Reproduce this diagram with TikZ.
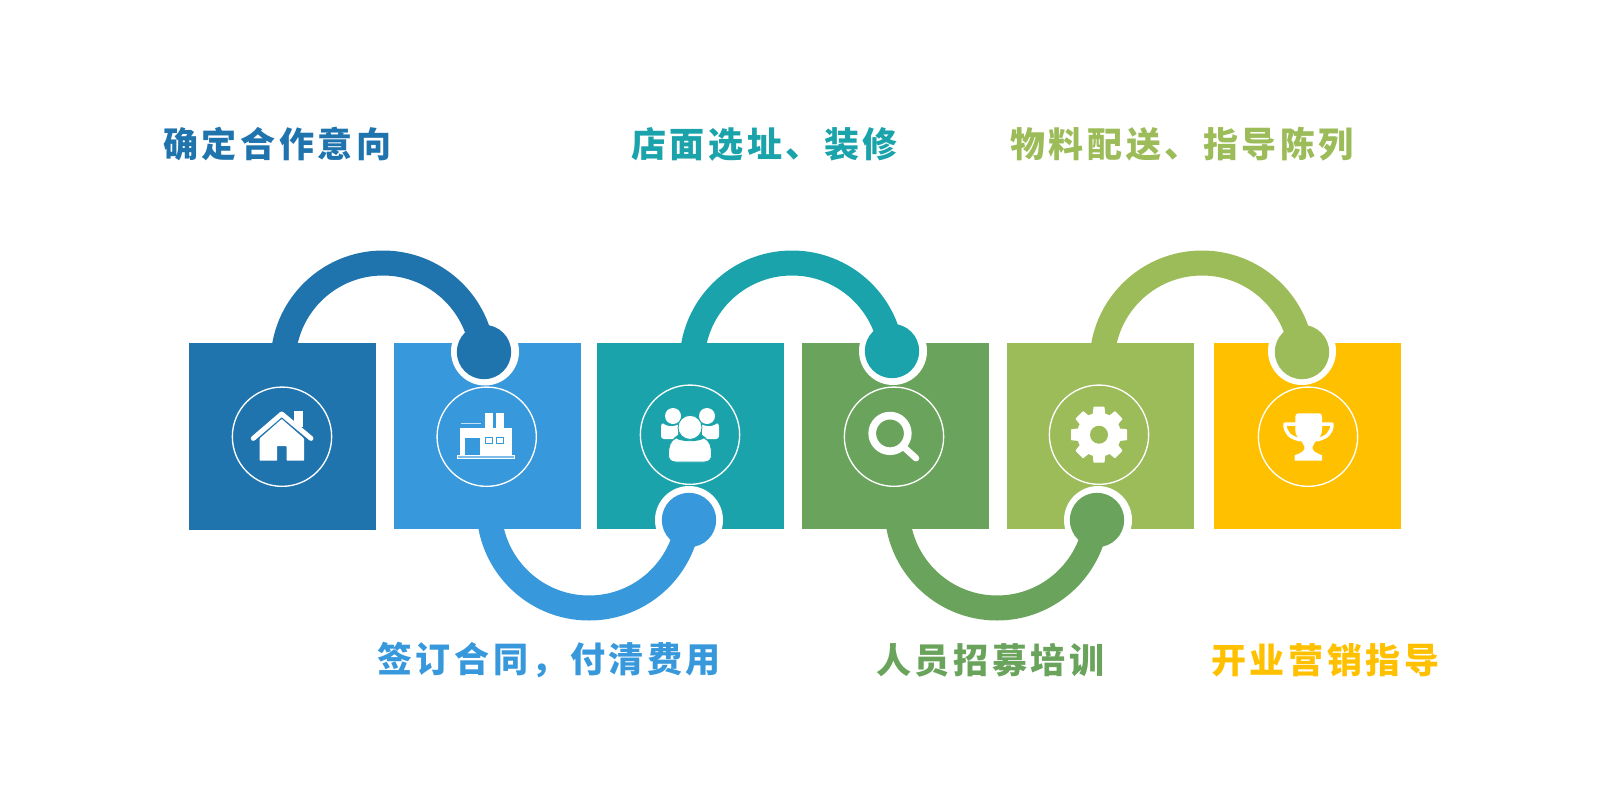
\documentclass[tikz,border=0pt]{standalone}
\usepackage{fontspec}
\newfontfamily\cjk[LetterSpace=10]{Noto Sans CJK SC}
\definecolor{cA}{HTML}{2074AE}
\definecolor{cB}{HTML}{3798DC}
\definecolor{cC}{HTML}{1BA3AC}
\definecolor{cD}{HTML}{6AA35C}
\definecolor{cE}{HTML}{9CBB59}
\definecolor{cF}{HTML}{FFC000}
\def\pxs{1.4226}
\tikzset{
 sq/.style={fill=#1,draw=none,minimum width=187*\pxs pt,minimum height=186.5*\pxs pt,inner sep=0,outer sep=0},
 ring/.style={circle,draw=white,line width=1.9pt,minimum size=99.3*\pxs pt,inner sep=0,outer sep=0},
 hole/.style={circle,fill=white,minimum size=68*\pxs pt,inner sep=0,outer sep=0},
 dot/.style={circle,fill=#1,minimum size=54.4*\pxs pt,inner sep=0,outer sep=0},
 band/.style={draw=#1,line width=25*\pxs pt},
 lbl/.style={text=#1,anchor=west,font=\cjk\bfseries\fontsize{49.8pt}{52pt}\selectfont,inner sep=0,outer sep=0},
 ic/.style={fill=white,draw=none},
 icl/.style={draw=white,fill=none,line cap=round,line join=round},
}
\begin{document}
\begin{tikzpicture}[x=0.05cm,y=-0.05cm]
\useasboundingbox (0,0) rectangle (1600,800);
% squares
\node[sq=cA] (s1) at (282.3,436.3) {};
\node[sq=cB] (s2) at (487.3,436) {};
\node[sq=cC] (s3) at (690.5,436) {};
\node[sq=cD] (s4) at (895.5,436) {};
\node[sq=cE] (s5) at (1100.5,436) {};
\node[sq=cF] (s6) at (1307.5,436) {};
% white collars
\node[hole] (h1) at (485,351.5) {};
\node[hole] (h2) at (689,520) {};
\node[hole] (h3) at (893,351) {};
\node[hole] (h4) at (1098,520) {};
\node[hole] (h5) at (1302,351) {};
% arc starts
\coordinate (a1) at (283,363);
\coordinate (a2) at (489,508);
\coordinate (a3) at (692,363);
\coordinate (a4) at (897,508);
\coordinate (a5) at (1102,363);
\draw[band=cA] (a1) arc[start angle=180,end angle=354,radius=100];
\draw[band=cB] (a2) arc[start angle=180,end angle=6,radius=100];
\draw[band=cC] (a3) arc[start angle=180,end angle=354,radius=100];
\draw[band=cD] (a4) arc[start angle=180,end angle=6,radius=100];
\draw[band=cE] (a5) arc[start angle=180,end angle=354,radius=100];
% dots
\node[dot=cA] (d1) at (484,352) {};
\node[dot=cB] (d2) at (689,520) {};
\node[dot=cC] (d3) at (892,351) {};
\node[dot=cD] (d4) at (1097,520) {};
\node[dot=cE] (d5) at (1302,352) {};
% rings
\node[ring] (r1) at (282,436.7) {};
\node[ring] (r2) at (486.7,436.7) {};
\node[ring] (r3) at (690,434.7) {};
\node[ring] (r4) at (894,436.7) {};
\node[ring] (r5) at (1099,434.7) {};
\node[ring] (r6) at (1308,436.7) {};
% house
\begin{scope}[shift={(r1.center)}]
 \fill[ic] (12,-25.7) rectangle (21.3,-10);
 \draw[icl,line width=7pt] (-28.7,1.7) -- (-0.3,-22.7) -- (29,1.7);
 \fill[ic,rounded corners=1pt] (-0.3,-17.7) -- (22,1.7) -- (22,24) -- (4.7,24) -- (4.7,9.3) -- (-5,9.3) -- (-5,24) -- (-22.3,24) -- (-22.3,1.7) -- cycle;
\end{scope}
% factory
\begin{scope}[shift={(r2.center)}]
 \fill[ic] (-26.7,-8.7) rectangle (25,19);
 \fill[ic] (-1.7,-23.7) rectangle (6.7,-8);
 \fill[ic] (9.3,-23.7) rectangle (17.3,-8);
 \draw[white!70!cB,line width=1.2pt] (-25.7,-13) -- (-6,-13);
 \fill[ic] (-29.3,18.3) rectangle (28.3,22);
 \fill[white!35!cB] (-28.6,19) rectangle (27.6,21.2);
 \fill[cB] (-21.7,1.3) rectangle (-6.7,18.3);
 \draw[cB,line width=1.1pt,fill=white] (-1.3,0.7) rectangle (6,7);
 \draw[cB,line width=1.1pt,fill=white] (9.7,0.7) rectangle (17,7);
\end{scope}
% people
\begin{scope}[shift={(r3.center)}]
 \fill[ic] (-17,-18.7) circle[radius=8];
 \fill[ic] (17,-18.7) circle[radius=8];
 \fill[ic] (-29,-7) .. controls (-29,-12) and (-27,-12) .. (-25,-10) .. controls (-21,-8) and (-17,-8) .. (-12,-10) -- (-12,0) .. controls (-14,1) and (-16,3) .. (-17,4.3) -- (-26,4.3) .. controls (-28,4.3) and (-29,3) .. (-29,1) -- cycle;
 \fill[ic,xscale=-1] (-29,-7) .. controls (-29,-12) and (-27,-12) .. (-25,-10) .. controls (-21,-8) and (-17,-8) .. (-12,-10) -- (-12,0) .. controls (-14,1) and (-16,3) .. (-17,4.3) -- (-26,4.3) .. controls (-28,4.3) and (-29,3) .. (-29,1) -- cycle;
 \draw[cC,line width=1.2pt,fill=white] (0,-7.3) circle[radius=12];
 \draw[cC,line width=1.2pt,fill=white] (-21.5,20) .. controls (-21.5,12) and (-20,6) .. (-14,3.2) .. controls (-8,7) and (8,7) .. (14,3.2) .. controls (20,6) and (21.5,12) .. (21.5,20) .. controls (21.5,25) and (19,27.3) .. (14,27.3) -- (-14,27.3) .. controls (-19,27.3) and (-21.5,25) .. (-21.5,20) -- cycle;
\end{scope}
% magnifier
\begin{scope}[shift={(r4.center)}]
 \draw[icl,line width=7.7*\pxs pt] (-4,-3.3) circle[radius=17.8];
 \draw[icl,line width=6.5*\pxs pt] (9.3,10) -- (22,21.5);
\end{scope}
% gear
\begin{scope}[shift={(r5.center)}]
 \fill[ic] (0,0) circle[radius=22];
 \foreach \a in {0,45,...,315}{
  \fill[ic,rotate=\a,rounded corners=1pt] (18,-6.5) -- (28,-5.5) -- (28,5.5) -- (18,6.5) -- cycle;
 }
 \fill[cE] (0,0) circle[radius=9];
\end{scope}
% trophy
\begin{scope}[shift={(r6.center)}]
 \draw[icl,line width=3.5*\pxs pt] (-12,-12.5) -- (-23,-12.5) .. controls (-23,-4) and (-18,1) .. (-8,3);
 \draw[icl,line width=3.5*\pxs pt] (13,-12.5) -- (24,-12.5) .. controls (24,-4) and (19,1) .. (9,3);
 \fill[ic] (-12.7,-20) .. controls (-12.7,-22.3) and (-11.5,-23.3) .. (-9.5,-23.3) -- (11,-23.3) .. controls (13,-23.3) and (14,-22.3) .. (14,-20) -- (14,-7) .. controls (14,2) and (6,4) .. (4.5,10) .. controls (4,14) and (7,16) .. (14,18.5) -- (14,24) -- (-13.3,24) -- (-13.3,18.5) .. controls (-6,16) and (-3,14) .. (-3.5,10) .. controls (-5,4) and (-12.7,2) .. (-12.7,-7) -- cycle;
\end{scope}
% labels
\node[lbl=cA] (t1) at (163.5,144) {确定合作意向};
\node[lbl=cC] (t2) at (631.5,144) {店面选址、装修};
\node[lbl=cE] (t3) at (1010.5,144) {物料配送、指导陈列};
\node[lbl=cB] (t4) at (377.5,660.5) {签订合同，付清费用};
\node[lbl=cD] (t5) at (876.5,660.5) {人员招募培训};
\node[lbl=cF] (t6) at (1211.5,660.5) {开业营销指导};
\end{tikzpicture}
\end{document}
